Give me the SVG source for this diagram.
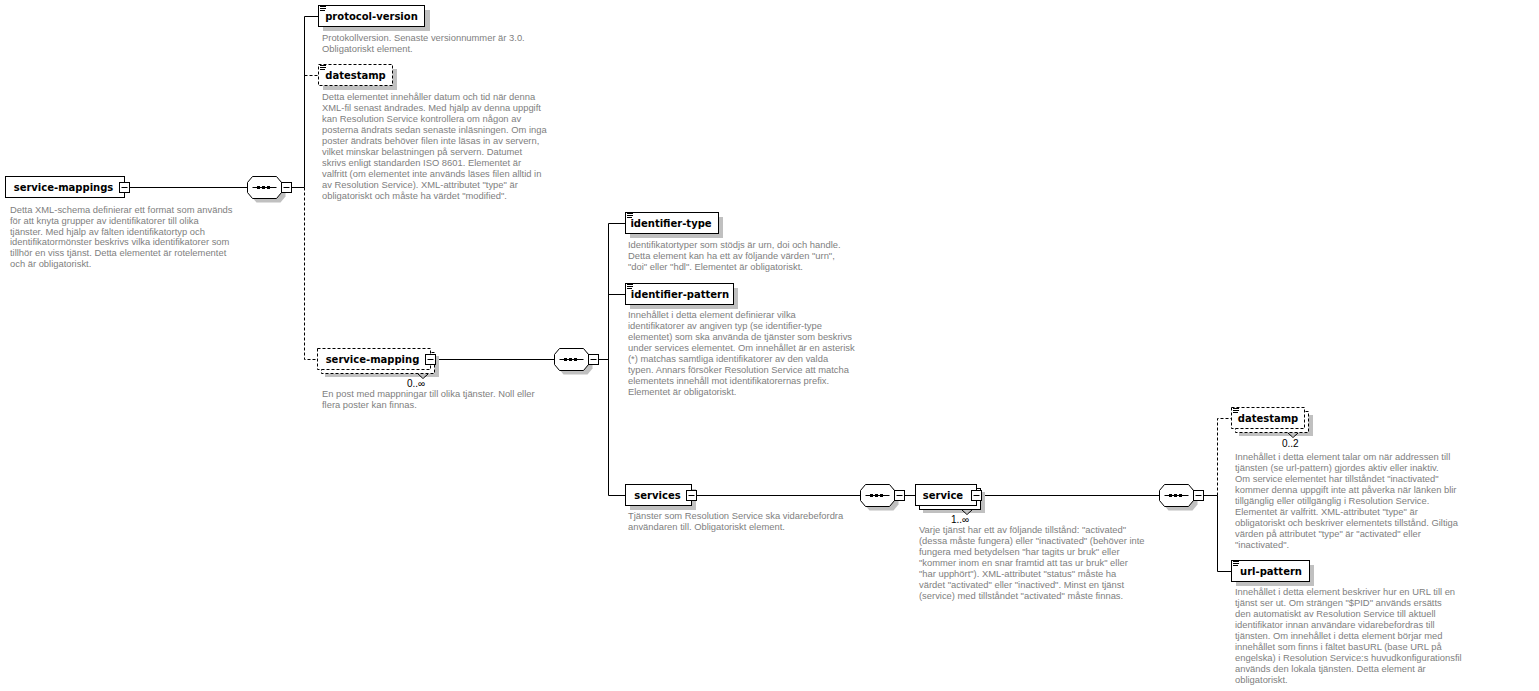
<svg xmlns="http://www.w3.org/2000/svg" xmlns:xlink="http://www.w3.org/1999/xlink" width="1539" height="691" viewBox="0 0 1539 691">
<defs>
<style>
.box{fill:#fff;stroke:#000;stroke-width:1}
.opt{stroke-dasharray:3 2}
.sh{fill:#c0c0c0;stroke:none}
.lbl{font-family:"DejaVu Sans",Verdana,sans-serif;font-size:10px;font-weight:bold;fill:#000;text-anchor:middle}
.desc{font-family:"Liberation Sans",Arial,sans-serif;font-size:9.4px;fill:#808080}
.occ{font-family:"Liberation Sans",Arial,sans-serif;font-size:10px;fill:#000}
.ln{stroke:#000;stroke-width:1;fill:none}
.dl{stroke:#000;stroke-width:1;fill:none;stroke-dasharray:3 2}
</style>
<path id="ico" d="M2 1.5H8M2 3.5H8M2 5.5H7" stroke="#000" stroke-width="1" fill="none"/>
<g id="minus"><rect x="0.5" y="0.5" width="10" height="10" fill="#fff" stroke="#000"/><path d="M2.5 5.5H8.5" stroke="#000"/></g>
<g id="seq">
<polygon class="sh" points="4,-1 9,-7 33,-7 38,-1 38,9 33,15 9,15 4,9"/>
<polygon class="box" points="0,-5 5,-11 29,-11 34,-5 34,5 29,11 5,11 0,5"/>
<path class="ln" d="M5 0H29"/>
<rect x="9.5" y="-1.5" width="3" height="3" fill="#000"/>
<rect x="14.5" y="-1.5" width="3" height="3" fill="#000"/>
<rect x="19.5" y="-1.5" width="3" height="3" fill="#000"/>
<rect x="34" y="-5" width="10" height="10" fill="#fff" stroke="#000"/>
<path class="ln" d="M36 0H42"/>
</g>
</defs>
<rect width="1539" height="691" fill="#fff"/>

<g id="connectors">
<path class="ln" d="M129.5 187.5H247.5M291.5 187.5H304.5M304.5 16.5V187.5M304.5 16.5H318.5"/>
<path class="dl" d="M304.5 187.5V359.5H317.5M304.5 75.5H318.5"/>
<path class="ln" d="M435.5 359.5H554.5M598.5 359.5H608.5M608.5 223.5V495.5M608.5 223.5H625.5M608.5 294.5H625.5M608.5 495.5H625.5"/>
<path class="ln" d="M696.5 495.5H860.5M904.5 495.5H915.5M981.5 495.5H1159.5M1203.5 495.5H1217.5M1217.5 495.5V571.5H1231.5"/>
<path class="dl" d="M1217.5 495.5V418.5H1231.5"/>
</g>

<g id="seq1"><use xlink:href="#seq" href="#seq" x="247.5" y="187.5"/></g>
<g id="seq2"><use xlink:href="#seq" href="#seq" x="554.5" y="359.5"/></g>
<g id="seq3"><use xlink:href="#seq" href="#seq" x="860.5" y="495.5"/></g>
<g id="seq4"><use xlink:href="#seq" href="#seq" x="1159.5" y="495.5"/></g>

<g id="service-mappings">
<rect class="box" x="5.5" y="176.5" width="119" height="21"/>
<use xlink:href="#minus" href="#minus" x="119" y="182"/>
<text class="lbl" x="63.5" y="191">service-mappings</text>
<text class="desc" x="10" y="213"><tspan x="10">Detta XML-schema definierar ett format som används</tspan><tspan x="10" dy="10.8">för att knyta grupper av identifikatorer till olika</tspan><tspan x="10" dy="10.8">tjänster. Med hjälp av fälten identifikatortyp och</tspan><tspan x="10" dy="10.8">identifikatormönster beskrivs vilka identifikatorer som</tspan><tspan x="10" dy="10.8">tillhör en viss tjänst. Detta elementet är rotelementet</tspan><tspan x="10" dy="10.8">och är obligatoriskt.</tspan></text>
</g>

<g id="protocol-version">
<rect class="sh" x="323" y="10" width="107" height="21"/>
<rect class="box" x="318.5" y="5.5" width="106" height="21"/>
<use xlink:href="#ico" href="#ico" x="318" y="5"/>
<text class="lbl" x="371.5" y="20">protocol-version</text>
<text class="desc" x="322" y="41"><tspan x="322">Protokollversion. Senaste versionnummer är 3.0.</tspan><tspan x="322" dy="11">Obligatoriskt element.</tspan></text>
</g>

<g id="datestamp-1">
<rect class="sh" x="323" y="69" width="74" height="21"/>
<rect class="box opt" x="318.5" y="64.5" width="74" height="21"/>
<use xlink:href="#ico" href="#ico" x="318" y="64"/>
<text class="lbl" x="355.5" y="79">datestamp</text>
<text class="desc" x="322" y="100"><tspan x="322">Detta elementet innehåller datum och tid när denna</tspan><tspan x="322" dy="11">XML-fil senast ändrades. Med hjälp av denna uppgift</tspan><tspan x="322" dy="11">kan Resolution Service kontrollera om någon av</tspan><tspan x="322" dy="11">posterna ändrats sedan senaste inläsningen. Om inga</tspan><tspan x="322" dy="11">poster ändrats behöver filen inte läsas in av servern,</tspan><tspan x="322" dy="11">vilket minskar belastningen på servern. Datumet</tspan><tspan x="322" dy="11">skrivs enligt standarden ISO 8601. Elementet är</tspan><tspan x="322" dy="11">valfritt (om elementet inte används läses filen alltid in</tspan><tspan x="322" dy="11">av Resolution Service). XML-attributet "type" är</tspan><tspan x="322" dy="11">obligatoriskt och måste ha värdet "modified".</tspan></text>
</g>

<g id="service-mapping">
<rect class="sh" x="325" y="356" width="114" height="21"/>
<rect class="box opt" x="321.5" y="352.5" width="113" height="21"/>
<rect class="box opt" x="317.5" y="348.5" width="113" height="21"/>
<use xlink:href="#minus" href="#minus" x="425" y="354"/>
<path class="ln" d="M418 374L423 378.5L428 374"/>
<text class="lbl" x="372.5" y="363">service-mapping</text>
<text class="occ" x="407" y="387">0..∞</text>
<text class="desc" x="322" y="397"><tspan x="322">En post med mappningar till olika tjänster. Noll eller</tspan><tspan x="322" dy="11">flera poster kan finnas.</tspan></text>
</g>

<g id="identifier-type">
<rect class="sh" x="630" y="217" width="93" height="21"/>
<rect class="box" x="625.5" y="212.5" width="93" height="21"/>
<use xlink:href="#ico" href="#ico" x="625" y="212"/>
<text class="lbl" x="671" y="227">identifier-type</text>
<text class="desc" x="628" y="248"><tspan x="628">Identifikatortyper som stödjs är urn, doi och handle.</tspan><tspan x="628" dy="11">Detta element kan ha ett av följande värden "urn",</tspan><tspan x="628" dy="11">"doi" eller "hdl". Elementet är obligatoriskt.</tspan></text>
</g>

<g id="identifier-pattern">
<rect class="sh" x="630" y="288" width="108" height="21"/>
<rect class="box" x="625.5" y="283.5" width="108" height="21"/>
<use xlink:href="#ico" href="#ico" x="625" y="283"/>
<text class="lbl" x="680" y="298">identifier-pattern</text>
<text class="desc" x="628" y="318"><tspan x="628">Innehållet i detta element definierar vilka</tspan><tspan x="628" dy="11">identifikatorer av angiven typ (se identifier-type</tspan><tspan x="628" dy="11">elementet) som ska använda de tjänster som beskrivs</tspan><tspan x="628" dy="11">under services elementet. Om innehållet är en asterisk</tspan><tspan x="628" dy="11">(*) matchas samtliga identifikatorer av den valda</tspan><tspan x="628" dy="11">typen. Annars försöker Resolution Service att matcha</tspan><tspan x="628" dy="11">elementets innehåll mot identifikatorernas prefix.</tspan><tspan x="628" dy="11">Elementet är obligatoriskt.</tspan></text>
</g>

<g id="services">
<rect class="sh" x="630" y="489" width="66" height="21"/>
<rect class="box" x="625.5" y="484.5" width="66" height="21"/>
<use xlink:href="#minus" href="#minus" x="686" y="490"/>
<text class="lbl" x="657.5" y="499">services</text>
<text class="desc" x="628" y="519"><tspan x="628">Tjänster som Resolution Service ska vidarebefordra</tspan><tspan x="628" dy="11">användaren till. Obligatoriskt element.</tspan></text>
</g>

<g id="service">
<rect class="sh" x="923" y="492" width="62" height="21"/>
<rect class="box" x="919.5" y="488.5" width="61" height="21"/>
<rect class="box" x="915.5" y="484.5" width="61" height="21"/>
<use xlink:href="#minus" href="#minus" x="971" y="490"/>
<path class="ln" d="M962 510L967 514.5L972 510"/>
<text class="lbl" x="943" y="499">service</text>
<text class="occ" x="951" y="523">1..∞</text>
<text class="desc" x="919" y="533"><tspan x="919">Varje tjänst har ett av följande tillstånd: "activated"</tspan><tspan x="919" dy="11">(dessa måste fungera) eller "inactivated" (behöver inte</tspan><tspan x="919" dy="11">fungera med betydelsen "har tagits ur bruk" eller</tspan><tspan x="919" dy="11">"kommer inom en snar framtid att tas ur bruk" eller</tspan><tspan x="919" dy="11">"har upphört"). XML-attributet "status" måste ha</tspan><tspan x="919" dy="11">värdet "activated" eller "inactived". Minst en tjänst</tspan><tspan x="919" dy="11">(service) med tillståndet "activated" måste finnas.</tspan></text>
</g>

<g id="datestamp-2">
<rect class="sh" x="1239" y="415" width="74" height="21"/>
<rect class="box opt" x="1235.5" y="411.5" width="73" height="21"/>
<rect class="box opt" x="1231.5" y="407.5" width="73" height="21"/>
<use xlink:href="#ico" href="#ico" x="1231" y="407"/>
<path class="ln" d="M1288 433L1293 437.5L1298 433"/>
<text class="lbl" x="1268" y="422">datestamp</text>
<text class="occ" x="1282" y="447">0..2</text>
<text class="desc" x="1235" y="460"><tspan x="1235">Innehållet i detta element talar om när addressen till</tspan><tspan x="1235" dy="11">tjänsten (se url-pattern) gjordes aktiv eller inaktiv.</tspan><tspan x="1235" dy="11">Om service elementet har tillståndet "inactivated"</tspan><tspan x="1235" dy="11">kommer denna uppgift inte att påverka när länken blir</tspan><tspan x="1235" dy="11">tillgänglig eller otillgänglig i Resolution Service.</tspan><tspan x="1235" dy="11">Elementet är valfritt. XML-attributet "type" är</tspan><tspan x="1235" dy="11">obligatoriskt och beskriver elementets tillstånd. Giltiga</tspan><tspan x="1235" dy="11">värden på attributet "type" är "activated" eller</tspan><tspan x="1235" dy="11">"inactivated".</tspan></text>
</g>

<g id="url-pattern">
<rect class="sh" x="1236" y="565" width="78" height="21"/>
<rect class="box" x="1231.5" y="560.5" width="78" height="21"/>
<use xlink:href="#ico" href="#ico" x="1231" y="560"/>
<text class="lbl" x="1271" y="575">url-pattern</text>
<text class="desc" x="1235" y="595"><tspan x="1235">Innehållet i detta element beskriver hur en URL till en</tspan><tspan x="1235" dy="11">tjänst ser ut. Om strängen "$PID" används ersätts</tspan><tspan x="1235" dy="11">den automatiskt av Resolution Service till aktuell</tspan><tspan x="1235" dy="11">identifikator innan användare vidarebefordras till</tspan><tspan x="1235" dy="11">tjänsten. Om innehållet i detta element börjar med</tspan><tspan x="1235" dy="11">innehållet som finns i fältet basURL (base URL på</tspan><tspan x="1235" dy="11">engelska) i Resolution Service:s huvudkonfigurationsfil</tspan><tspan x="1235" dy="11">används den lokala tjänsten. Detta element är</tspan><tspan x="1235" dy="11">obligatoriskt.</tspan></text>
</g>
</svg>
